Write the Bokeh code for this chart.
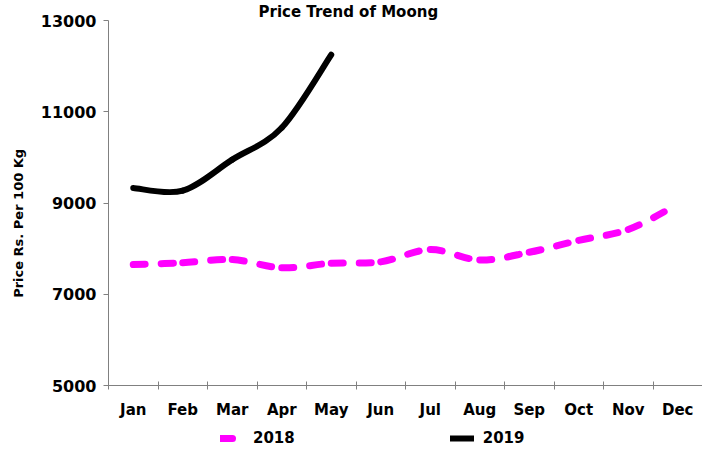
from bokeh.plotting import figure
from bokeh.layouts import column
from bokeh.models import Range1d, FixedTicker, LinearAxis, Legend, LegendItem, ColumnDataSource
from bokeh.embed import file_html
from bokeh.resources import INLINE

# ---- data ----
months = ["Jan", "Feb", "Mar", "Apr", "May", "Jun", "Jul", "Aug", "Sep", "Oct", "Nov", "Dec"]
price_2018 = [7650, 7690, 7760, 7580, 7680, 7710, 7980, 7750, 7920, 8180, 8420, 8970]
price_2019 = [9330, 9270, 9950, 10650, 12250]
y_ticks = [5000, 7000, 9000, 11000, 13000]
series_names = ["2018", "2019"]
title_text = "Price Trend of Moong"
y_label = "Price Rs. Per 100 Kg"

FONT = "DejaVu Sans"
C18 = "#FF00FF"
C19 = "black"
DASH18 = "12 16"


def smooth_segments(values):
    """Cubic Bezier pieces (Catmull-Rom style) through the data points."""
    xs = [i + 0.5 for i in range(len(values))]
    ys = list(values)
    n = len(xs)
    d = dict(x0=[], y0=[], x1=[], y1=[], cx0=[], cy0=[], cx1=[], cy1=[])
    for i in range(n - 1):
        p0 = (xs[max(i - 1, 0)], ys[max(i - 1, 0)])
        p1 = (xs[i], ys[i])
        p2 = (xs[i + 1], ys[i + 1])
        p3 = (xs[min(i + 2, n - 1)], ys[min(i + 2, n - 1)])
        d["x0"].append(p1[0]); d["y0"].append(p1[1])
        d["x1"].append(p2[0]); d["y1"].append(p2[1])
        d["cx0"].append(p1[0] + (p2[0] - p0[0]) / 6.0)
        d["cy0"].append(p1[1] + (p2[1] - p0[1]) / 6.0)
        d["cx1"].append(p2[0] - (p3[0] - p1[0]) / 6.0)
        d["cy1"].append(p2[1] - (p3[1] - p1[1]) / 6.0)
    return ColumnDataSource(d)


p = figure(width=702, height=425, output_backend="svg", toolbar_location=None,
           x_range=Range1d(0, len(months)), y_range=Range1d(y_ticks[0], y_ticks[-1]),
           x_axis_location=None, y_axis_location=None,
           min_border_left=108, min_border_right=0, min_border_top=18, min_border_bottom=40)
p.outline_line_color = None
p.grid.grid_line_color = None
p.background_fill_color = "white"
p.border_fill_color = "white"

p.title.text = title_text
p.title.text_font = FONT
p.title.text_font_style = "bold"
p.title.text_font_size = "15px"
p.title.text_color = "black"
p.title.align = "left"
p.title.offset = 150
p.title.standoff = 0

# y axis (trailing no-break spaces nudge the centred title down, as in the original)
yax = LinearAxis(ticker=FixedTicker(ticks=y_ticks))
yax.axis_label = y_label + "\u00a0" * 9
yax.axis_label_text_font = FONT
yax.axis_label_text_font_style = "bold"
yax.axis_label_text_font_size = "13px"
yax.axis_label_text_color = "black"
yax.axis_label_standoff = 12
yax.major_label_text_font = FONT
yax.major_label_text_font_style = "bold"
yax.major_label_text_font_size = "16px"
yax.major_label_text_color = "black"
yax.axis_line_color = "#808080"
yax.major_tick_line_color = "#808080"
yax.major_tick_out = 5
yax.major_tick_in = 0
yax.minor_tick_line_color = None
yax.major_label_standoff = 7
p.add_layout(yax, "left")

# x axis: tick marks at category boundaries
xax_ticks = LinearAxis(ticker=FixedTicker(ticks=list(range(len(months) + 1))))
xax_ticks.major_label_overrides = {i: " " for i in range(len(months) + 1)}
xax_ticks.major_label_text_font_size = "1px"
xax_ticks.major_label_standoff = 0
xax_ticks.axis_line_color = "#808080"
xax_ticks.major_tick_line_color = "#808080"
xax_ticks.major_tick_in = 4
xax_ticks.major_tick_out = 4
xax_ticks.minor_tick_line_color = None
p.add_layout(xax_ticks, "below")

# x axis: month labels at category centres
centres = [i + 0.5 for i in range(len(months))]
xax = LinearAxis(ticker=FixedTicker(ticks=centres))
xax.major_label_overrides = {c: m for c, m in zip(centres, months)}
xax.major_label_text_font = FONT
xax.major_label_text_font_style = "bold"
xax.major_label_text_font_size = "15px"
xax.major_label_text_color = "black"
xax.axis_line_color = None
xax.major_tick_line_color = None
xax.minor_tick_line_color = None
xax.major_label_standoff = 1
p.add_layout(xax, "below")

p.bezier(x0="x0", y0="y0", x1="x1", y1="y1", cx0="cx0", cy0="cy0", cx1="cx1", cy1="cy1",
         source=smooth_segments(price_2018), line_color=C18, line_width=7,
         line_dash=DASH18, line_cap="round")
p.bezier(x0="x0", y0="y0", x1="x1", y1="y1", cx0="cx0", cy0="cy0", cx1="cx1", cy1="cy1",
         source=smooth_segments(price_2019), line_color=C19, line_width=6,
         line_cap="round", line_join="round")

# ---- legend strip below the chart (its series renderers are hidden; only the key shows) ----
lf = figure(width=702, height=26, output_backend="svg", toolbar_location=None,
            x_range=Range1d(0, len(months)), y_range=Range1d(y_ticks[0], y_ticks[-1]),
            x_axis_location=None, y_axis_location=None,
            min_border_left=0, min_border_right=0, min_border_top=0, min_border_bottom=0)
lf.outline_line_color = None
lf.grid.grid_line_color = None
lf.border_fill_color = "white"
l18 = lf.line(x=centres, y=price_2018, line_color=C18, line_width=7, line_dash=DASH18,
              line_cap="round", visible=False)
l19 = lf.line(x=centres[:len(price_2019)], y=price_2019, line_color=C19, line_width=6,
              line_cap="round", visible=False)
legend = Legend(items=[LegendItem(label=series_names[0], renderers=[l18]),
                       LegendItem(label=series_names[1], renderers=[l19])],
                orientation="horizontal", location=(112, 4))
legend.border_line_color = None
legend.background_fill_alpha = 0
legend.inactive_fill_alpha = 0
legend.label_text_font = FONT
legend.label_text_font_style = "bold"
legend.label_text_font_size = "15px"
legend.label_text_color = "black"
legend.glyph_width = 24
legend.glyph_height = 14
legend.label_standoff = 9
legend.spacing = 155
legend.padding = 0
legend.margin = 0
lf.add_layout(legend, "center")

layout = column(p, lf, spacing=0)
open("out.html", "w").write(file_html(layout, INLINE))
